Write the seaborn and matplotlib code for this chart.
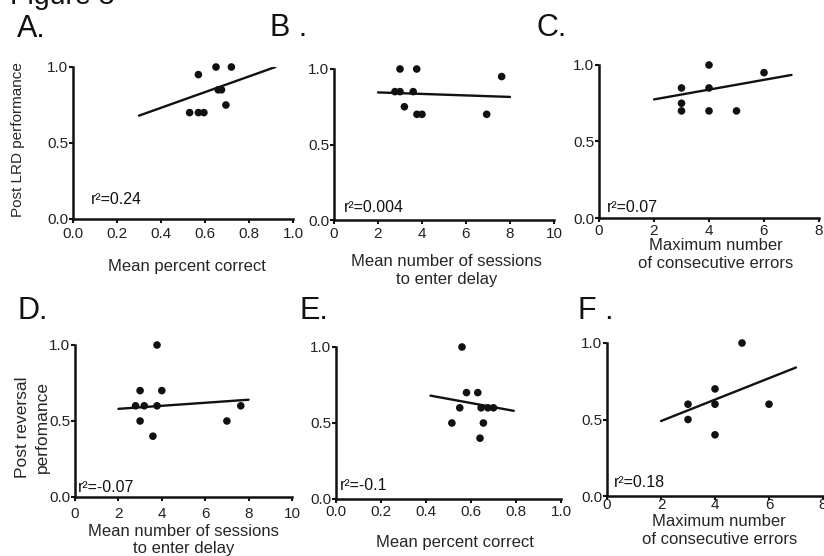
import numpy as np
import pandas as pd
import matplotlib
matplotlib.use('Agg')
import matplotlib.pyplot as plt
import seaborn as sns

sns.set_theme(style='ticks')
plt.rcParams['font.family'] = ['Liberation Sans', 'DejaVu Sans']

# values
a_x = [0.57, 0.65, 0.72, 0.53, 0.57, 0.595, 0.66, 0.675, 0.695]
a_y = [0.95, 1.00, 1.00, 0.70, 0.70, 0.70, 0.85, 0.85, 0.75]
a_fit_x = [0.30, 0.92]
a_fit_y = [0.68, 1.00]

b_x = [3.0, 3.76, 7.62, 2.77, 3.0, 3.6, 3.2, 3.77, 4.0, 6.94]
b_y = [1.00, 1.00, 0.95, 0.85, 0.85, 0.85, 0.75, 0.70, 0.70, 0.70]
b_fit_x = [2, 8]
b_fit_y = [0.845, 0.815]

c_x = [3, 3, 3, 4, 4, 4, 5, 6]
c_y = [0.85, 0.75, 0.70, 1.00, 0.85, 0.70, 0.70, 0.95]
c_fit_x = [2, 7]
c_fit_y = [0.775, 0.935]

d_x = [3.78, 3.0, 4.0, 2.79, 3.19, 3.78, 3.0, 3.59, 7.0, 7.64]
d_y = [1.0, 0.7, 0.7, 0.6, 0.6, 0.6, 0.5, 0.4, 0.5, 0.6]
d_fit_x = [2, 8]
d_fit_y = [0.58, 0.64]

e_x = [0.56, 0.58, 0.63, 0.55, 0.645, 0.675, 0.70, 0.515, 0.655, 0.64]
e_y = [1.0, 0.7, 0.7, 0.6, 0.6, 0.6, 0.6, 0.5, 0.5, 0.4]
e_fit_x = [0.42, 0.79]
e_fit_y = [0.68, 0.58]

f_x = [5, 4, 3, 4, 6, 3, 4]
f_y = [1.0, 0.7, 0.6, 0.6, 0.6, 0.5, 0.4]
f_fit_x = [2, 7]
f_fit_y = [0.49, 0.84]

r2_labels = ['r\u00b2=0.24', 'r\u00b2=0.004', 'r\u00b2=0.07',
             'r\u00b2=-0.07', 'r\u00b2=-0.1', 'r\u00b2=0.18']
y_ticks = [0.0, 0.5, 1.0]
y_ticklabels = ['0.0', '0.5', '1.0']
frac_ticks = [0.0, 0.2, 0.4, 0.6, 0.8, 1.0]
frac_ticklabels = ['0.0', '0.2', '0.4', '0.6', '0.8', '1.0']
session_ticks = [0, 2, 4, 6, 8, 10]
error_ticks = [0, 2, 4, 6, 8]

W, H = 824, 556


def axes_at(fig, x0, x1, y0, y1):
    # pixel box -> figure fraction
    return fig.add_axes([x0 / W, (H - y1) / H, (x1 - x0) / W, (y1 - y0) / H])


def draw_panel(ax, xs, ys, fit_x, fit_y, xmax, xticks, xticklabels, r2, r2_pos, xpad):
    pts = pd.DataFrame({'x': xs, 'y': ys})
    fit = pd.DataFrame({'x': fit_x, 'y': fit_y})
    sns.lineplot(data=fit, x='x', y='y', ax=ax, color='#111111', lw=1.7)
    sns.scatterplot(data=pts, x='x', y='y', ax=ax, color='#111111', s=30,
                    edgecolor='none', clip_on=False, zorder=3)
    ax.set_xlim(0, xmax)
    ax.set_ylim(0, 1.0)
    ax.set_xticks(xticks)
    ax.set_xticklabels(xticklabels)
    ax.set_yticks(y_ticks)
    ax.set_yticklabels(y_ticklabels)
    ax.set_xlabel('')
    ax.set_ylabel('')
    for side in ['top', 'right']:
        ax.spines[side].set_visible(False)
    for side in ['left', 'bottom']:
        ax.spines[side].set_linewidth(1.8)
        ax.spines[side].set_color('#111111')
    ax.tick_params(direction='out', length=2.8, width=1.5, labelsize=11,
                   pad=0.5, colors='#111111', labelcolor='#222222')
    ax.tick_params(axis='x', pad=xpad)
    ax.text(r2_pos[0], r2_pos[1], r2, transform=ax.transAxes, fontsize=11.5,
            ha='left', va='center', color='#111111')


fig = plt.figure(figsize=(W / 100, H / 100), dpi=100)

ax_a = axes_at(fig, 73, 293, 67, 219)
ax_b = axes_at(fig, 334, 554, 69, 220)
ax_c = axes_at(fig, 599, 819, 65, 218)
ax_d = axes_at(fig, 75, 292, 345, 497)
ax_e = axes_at(fig, 336, 561, 347, 499)
ax_f = axes_at(fig, 607, 823, 343, 496)

draw_panel(ax_a, a_x, a_y, a_fit_x, a_fit_y, 1.0, frac_ticks, frac_ticklabels,
           r2_labels[0], (0.08, 0.125), 2.8)
draw_panel(ax_b, b_x, b_y, b_fit_x, b_fit_y, 10, session_ticks,
           [str(t) for t in session_ticks], r2_labels[1], (0.045, 0.086), 2.0)
draw_panel(ax_c, c_x, c_y, c_fit_x, c_fit_y, 8, error_ticks,
           [str(t) for t in error_ticks], r2_labels[2], (0.036, 0.07), 1.5)
draw_panel(ax_d, d_x, d_y, d_fit_x, d_fit_y, 10, session_ticks,
           [str(t) for t in session_ticks], r2_labels[3], (0.014, 0.06), 4.5)
draw_panel(ax_e, e_x, e_y, e_fit_x, e_fit_y, 1.0, frac_ticks, frac_ticklabels,
           r2_labels[4], (0.018, 0.086), 1.5)
draw_panel(ax_f, f_x, f_y, f_fit_x, f_fit_y, 8, error_ticks,
           [str(t) for t in error_ticks], r2_labels[5], (0.03, 0.085), -1.5)

# axis labels
ax_a.set_ylabel('Post LRD performance', fontsize=11)
ax_a.yaxis.set_label_coords(-0.218, 0.52)
ax_d.set_ylabel('Post reversal\nperfomance', fontsize=12.5, linespacing=1.45)
ax_d.yaxis.set_label_coords(-0.115, 0.46)

ax_a.set_xlabel('Mean percent correct', fontsize=12)
ax_a.xaxis.set_label_coords(0.52, -0.263)
ax_b.set_xlabel('Mean number of sessions\nto enter delay', fontsize=12, linespacing=1.25)
ax_b.xaxis.set_label_coords(0.51, -0.225)
ax_c.set_xlabel('Maximum number\nof consecutive errors', fontsize=12, linespacing=1.25)
ax_c.xaxis.set_label_coords(0.53, -0.131)
ax_d.set_xlabel('Mean number of sessions\nto enter delay', fontsize=12, linespacing=1.15)
ax_d.xaxis.set_label_coords(0.5, -0.178)
ax_e.set_xlabel('Mean percent correct', fontsize=12)
ax_e.xaxis.set_label_coords(0.53, -0.24)
ax_f.set_xlabel('Maximum number\nof consecutive errors', fontsize=12, linespacing=1.25)
ax_f.xaxis.set_label_coords(0.52, -0.118)

# panel letters and (clipped) figure title
fig.text(10 / W, 1 - 4 / H, 'Figure 3', fontsize=20.5, va='baseline', ha='left', color='#111111')
letters = [('A.', 17, 37), ('B .', 270, 36), ('C.', 537, 36),
           ('D.', 18, 319), ('E.', 299, 319), ('F .', 578, 319)]
for txt, lx, ly in letters:
    fig.text(lx / W, 1 - ly / H, txt, fontsize=22, va='baseline', ha='left', color='#111111')

fig.savefig('out.png', dpi=100)
